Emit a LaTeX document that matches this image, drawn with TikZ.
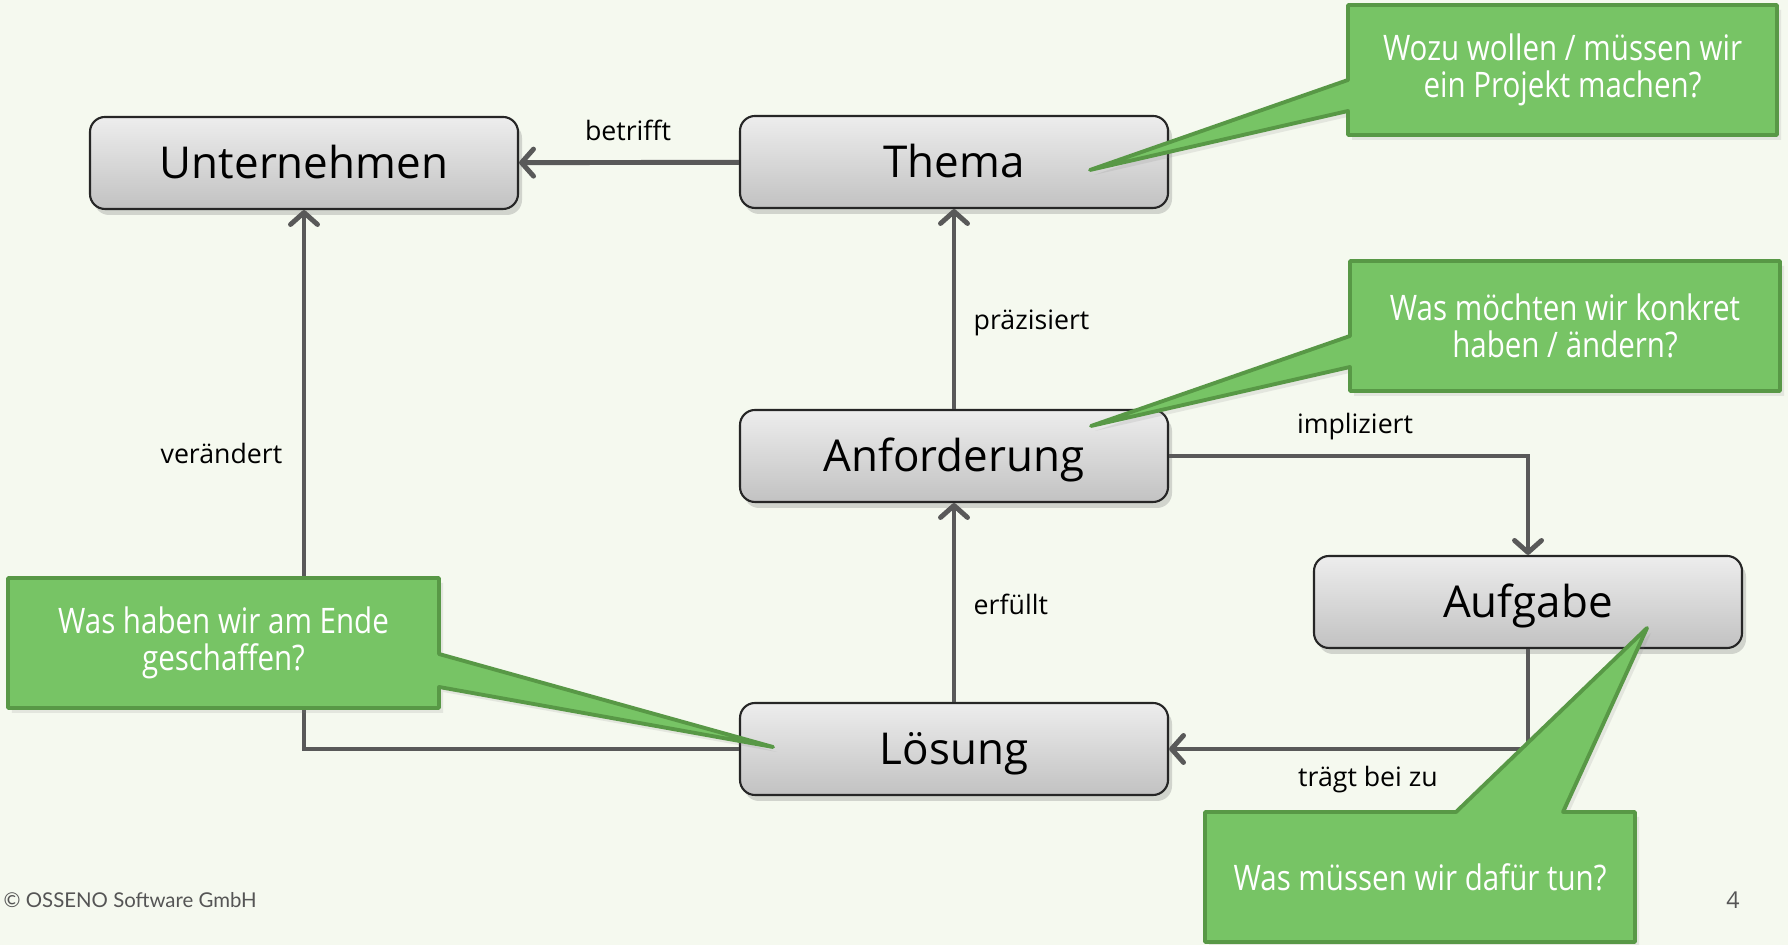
\documentclass[tikz,border=0pt]{standalone}
\usepackage{fontspec}
\setmainfont{Open Sans}
\newfontfamily\bubblefont[FakeStretch=0.84]{Open Sans}
\newfontfamily\footfont{Lato}
\usetikzlibrary{arrows.meta,shadows}
\definecolor{bgpaper}{RGB}{245,249,239}
\definecolor{linkgray}{RGB}{89,89,89}
\definecolor{bubblefill}{RGB}{119,196,101}
\definecolor{bubbleline}{RGB}{88,152,70}
\definecolor{footgray}{RGB}{85,85,85}

\begin{document}
\begin{tikzpicture}[
    box/.style={draw=black!85, line width=0.6pt, rounded corners=0.15cm,
        top color=black!7, bottom color=black!24,
        minimum width=4.28cm, minimum height=0.92cm,
        text height=8.9pt, text depth=0pt,
        font=\fontsize{12.5}{15}\selectfont,
        drop shadow={opacity=0.3, shadow xshift=0.04cm, shadow yshift=-0.06cm}},
    link/.style={draw=linkgray, line width=1.4pt,
        -{Straight Barb[length=0.12cm,width=0.27cm,line cap=round,line join=round]}},
    lbl/.style={font=\fontsize{7.6}{9}\selectfont, inner sep=0pt},
    bubble/.style={fill=bubblefill, draw=bubbleline, line width=1.1pt, line join=round,
        drop shadow={opacity=0.15, shadow xshift=0.04cm, shadow yshift=-0.05cm}},
    bubbletext/.style={text=white, align=center, font=\bubblefont\fontsize{10}{10.7}\selectfont}
]
        \useasboundingbox (0,0) rectangle (17.88,9.45);
        \fill[bgpaper] (0,0) rectangle (17.88,9.45);

        % begriffe
        \node (UN) at (3.04,7.82) [box] {Unternehmen};
        \node (TH) at (9.54,7.83) [box] {Thema};
        \node (AN) at (9.54,4.89) [box] {Anforderung};
        \node (AU) at (15.28,3.43) [box] {Aufgabe};
        \node (LO) at (9.54,1.96) [box] {Lösung};

        % beziehungen
        \draw[link] (TH) -- (UN);
        \draw[link] (AN) -- (TH);
        \draw[link] (AN.east) -| (AU.north);
        \draw[link] (LO) -- (AN);
        \draw[link] (AU.south) |- (LO.east);
        \draw[link] (LO.west) -| (UN.south);

        \node (betrifft) at (6.28,8.15) [lbl] {betrifft};
        \node (praez) at (9.73,6.22) [lbl,anchor=west] {präzisiert};
        \node (impl) at (13.55,5.18) [lbl] {impliziert};
        \node (erf) at (9.73,3.41) [lbl,anchor=west] {erfüllt};
        \node (traegt) at (13.68,1.65) [lbl] {trägt bei zu};
        \node (veraend) at (2.83,4.92) [lbl,anchor=east] {verändert};

        % sprechblasen
        \filldraw[bubble] (13.48,9.40) -- (17.77,9.40) -- (17.77,8.10) -- (13.48,8.10)
            -- (13.48,8.34) -- (10.90,7.75) -- (13.48,8.65) -- cycle;
        \node (Q1) at (15.625,8.75) [bubbletext] {Wozu wollen / müssen wir\\ein Projekt machen?};
        \filldraw[bubble] (13.50,6.84) -- (17.80,6.84) -- (17.80,5.54) -- (13.50,5.54)
            -- (13.50,5.78) -- (10.91,5.19) -- (13.50,6.09) -- cycle;
        \node (Q2) at (15.65,6.19) [bubbletext] {Was möchten wir konkret\\haben / ändern?};
        \filldraw[bubble] (0.08,3.67) -- (4.39,3.67) -- (4.39,2.91) -- (7.73,1.98)
            -- (4.39,2.58) -- (4.39,2.37) -- (0.08,2.37) -- cycle;
        \node (Q3) at (2.235,3.02) [bubbletext] {Was haben wir am Ende\\geschaffen?};
        \filldraw[bubble] (12.05,1.33) -- (14.56,1.33) -- (16.47,3.17) -- (15.63,1.33)
            -- (16.35,1.33) -- (16.35,0.03) -- (12.05,0.03) -- cycle;
        \node (Q4) at (14.20,0.68) [bubbletext] {Was müssen wir dafür tun?};

        % fusszeile
        \node (copy) at (0.03,0.45) [anchor=west,inner sep=0pt,text=footgray,
            font=\footfont\fontsize{5.8}{7}\selectfont] {© OSSENO Software GmbH};
        \node (page) at (17.33,0.45) [inner sep=0pt,text=footgray,
            font=\fontsize{6.6}{8}\selectfont] {4};
    \end{tikzpicture}
\end{document}
